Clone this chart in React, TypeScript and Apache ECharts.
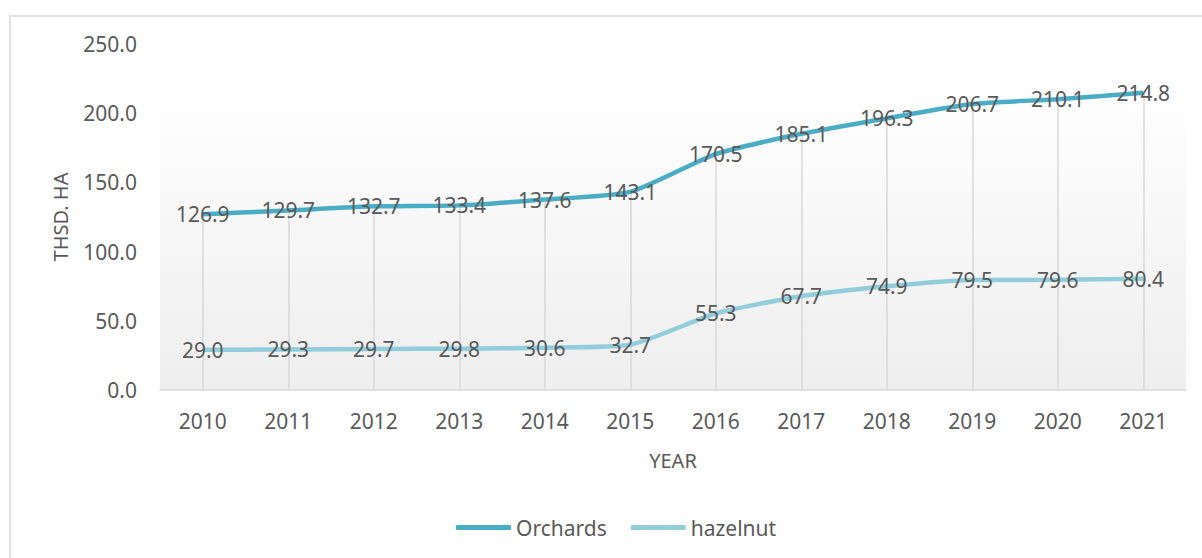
import React, { useEffect, useRef } from "react";
import * as echarts from "echarts";

const years = ["2010", "2011", "2012", "2013", "2014", "2015", "2016", "2017", "2018", "2019", "2020", "2021"];
const orchards = [126.9, 129.7, 132.7, 133.4, 137.6, 143.1, 170.5, 185.1, 196.3, 206.7, 210.1, 214.8];
const hazelnut = [29.0, 29.3, 29.7, 29.8, 30.6, 32.7, 55.3, 67.7, 74.9, 79.5, 79.6, 80.4];
const yTicks = [0, 50, 100, 150, 200, 250];

const FONT = "'Noto Sans', 'Open Sans', sans-serif";
const TEXT = "#595959";

export default function App() {
  const ref = useRef<HTMLDivElement>(null);
  useEffect(() => {
    const chart = echarts.init(ref.current!, null, { renderer: "svg" });
    const dropLines = orchards.map((v, i) => [
      { xAxis: i, yAxis: 0 },
      { xAxis: i, yAxis: v },
    ]);
    const labelCfg = {
      show: true,
      position: "inside",
      color: TEXT,
      fontSize: 21,
      fontFamily: FONT,
      formatter: (p: any) => Number(p.value).toFixed(1),
    };
    chart.setOption({
      animation: false,
      textStyle: { fontFamily: FONT },
      graphic: [
        {
          type: "rect",
          shape: { x: 10, y: 16, width: 1240, height: 600 },
          style: { fill: "none", stroke: "#d9d9d9", lineWidth: 1.5 },
          silent: true,
          z: -10,
        },
      ],
      grid: {
        left: 160,
        right: 16,
        top: 44,
        bottom: 168,
        show: true,
        borderWidth: 0,
        backgroundColor: new echarts.graphic.LinearGradient(0, 0, 0, 1, [
          { offset: 0, color: "#ffffff" },
          { offset: 0.12, color: "#ffffff" },
          { offset: 1, color: "#eeeeee" },
        ]),
      },
      legend: {
        bottom: 15,
        left: 451,
        icon: "roundRect",
        itemWidth: 55,
        itemHeight: 5,
        itemGap: 24,
        textStyle: { color: TEXT, fontSize: 21, fontFamily: FONT },
        data: ["Orchards", "hazelnut"],
      },
      xAxis: {
        type: "category",
        data: years,
        boundaryGap: true,
        name: "YEAR",
        nameLocation: "middle",
        nameGap: 60,
        nameTextStyle: { color: TEXT, fontSize: 20, fontFamily: FONT },
        axisLine: { lineStyle: { color: "#d9d9d9", width: 1.5 } },
        axisTick: { show: false },
        axisLabel: { color: TEXT, fontSize: 21, margin: 20, fontFamily: FONT },
        splitLine: { show: false },
      },
      yAxis: {
        type: "value",
        min: yTicks[0],
        max: yTicks[yTicks.length - 1],
        interval: 50,
        name: "THSD. HA",
        nameLocation: "middle",
        nameGap: 90,
        nameTextStyle: { color: TEXT, fontSize: 20, fontFamily: FONT },
        axisLine: { show: false },
        axisTick: { show: false },
        splitLine: { show: false },
        axisLabel: {
          color: TEXT,
          fontSize: 21,
          margin: 23,
          fontFamily: FONT,
          formatter: (v: number) => v.toFixed(1),
        },
      },
      series: [
        {
          name: "Orchards",
          type: "line",
          data: orchards,
          smooth: 0.2,
          symbol: "circle",
          symbolSize: 1,
          showSymbol: true,
          lineStyle: { color: "#4BACC6", width: 4.5 },
          itemStyle: { color: "#4BACC6" },
          z: 3,
          label: labelCfg,
          markLine: {
            silent: true,
            symbol: "none",
            label: { show: false },
            lineStyle: { color: "#d9d9d9", width: 1.5, type: "solid" },
            data: dropLines,
            z: 1,
          },
        },
        {
          name: "hazelnut",
          type: "line",
          data: hazelnut,
          smooth: 0.2,
          symbol: "circle",
          symbolSize: 1,
          showSymbol: true,
          lineStyle: { color: "#92CDDC", width: 4.5 },
          itemStyle: { color: "#92CDDC" },
          z: 3,
          label: labelCfg,
        },
      ],
    });
    return () => chart.dispose();
  }, []);
  return (
    <div
      ref={ref}
      style={{ position: "fixed", left: 0, top: 0, width: 1202, height: 558, background: "#ffffff" }}
    />
  );
}
